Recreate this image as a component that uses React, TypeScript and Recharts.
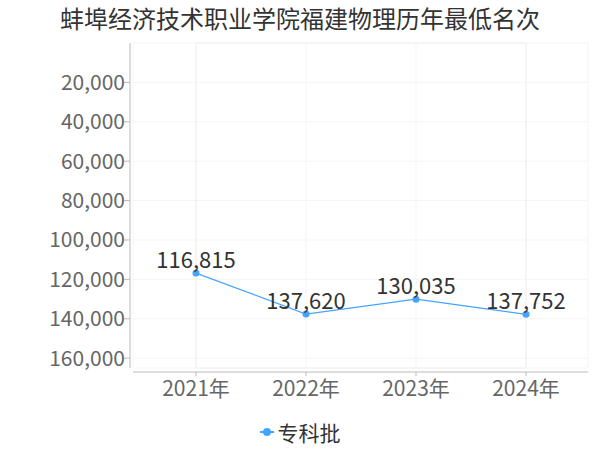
import { LineChart, Line, XAxis, YAxis, CartesianGrid, LabelList, Legend, ReferenceArea } from "recharts";

const years = ["2021年", "2022年", "2023年", "2024年"];
const ranks = [116815, 137620, 130035, 137752];
const yTicks = [20000, 40000, 60000, 80000, 100000, 120000, 140000, 160000];

const data = years.map((year, i) => ({ year, rank: ranks[i] }));

const font = "'Noto Sans CJK SC', 'Noto Sans', sans-serif";
const fmt = (v: number) => v.toLocaleString("en-US");

function LegendContent({ payload }: any) {
  return (
    <div style={{ display: "flex", justifyContent: "center", fontFamily: font, height: 30 }}>
      {(payload || []).map((p: any) => (
        <div key={p.value} style={{ display: "flex", alignItems: "center", gap: 4 }}>
          <svg width={14} height={10}>
            <line x1={0} y1={5} x2={14} y2={5} stroke={p.color} strokeWidth={2} />
            <circle cx={7} cy={5} r={4} fill={p.color} />
          </svg>
          <span style={{ fontSize: 21, lineHeight: "30px", color: "#333" }}>{p.value}</span>
        </div>
      ))}
    </div>
  );
}

export default function App() {
  return (
    <div style={{ position: "absolute", left: 0, top: 0, width: 600, height: 450, background: "#fff" }}>
      <style>{`
        .recharts-yAxis { transform: translateX(-3px); }
        .recharts-xAxis { transform: translateY(4px); }
      `}</style>
      <div
        style={{
          position: "absolute",
          top: 6,
          width: 600,
          textAlign: "center",
          fontFamily: font,
          fontSize: 24,
          lineHeight: "24px",
          color: "#333",
        }}
      >
        蚌埠经济技术职业学院福建物理历年最低名次
      </div>
      <LineChart width={600} height={450} data={data} margin={{ top: 43, right: 12, bottom: 22, left: 0 }}>
        <CartesianGrid stroke="#f5f5f5" />
        <ReferenceArea y1={0} y2={165000} fill="none" stroke="#f0f0f0" />
        <XAxis
          dataKey="year"
          height={30}
          padding={{ left: 63, right: 62 }}
          stroke="#bbb"
          tickSize={4}
          tickMargin={9}
          tick={{ fontSize: 21, fill: "#666", fontFamily: font }}
        />
        <YAxis
          reversed
          domain={[0, 165000]}
          ticks={yTicks}
          tickFormatter={fmt}
          width={133}
          stroke="#bbb"
          tickSize={6}
          tickMargin={2}
          tick={{ fontSize: 21, fill: "#666", fontFamily: font }}
        />
        <Legend
          content={<LegendContent />}
          verticalAlign="bottom"
          wrapperStyle={{ bottom: 3, left: 0, width: 600, height: 30 }}
        />
        <Line
          dataKey="rank"
          name="专科批"
          stroke="#44a3ff"
          strokeWidth={1.2}
          dot={{ r: 3.5, fill: "#44a3ff", stroke: "#44a3ff", strokeWidth: 0 }}
          isAnimationActive={false}
        >
          <LabelList
            dataKey="rank"
            position="top"
            offset={5}
            formatter={(v: any) => fmt(Number(v))}
            style={{ fontSize: 22, fill: "#333", fontFamily: font }}
          />
        </Line>
      </LineChart>
    </div>
  );
}
